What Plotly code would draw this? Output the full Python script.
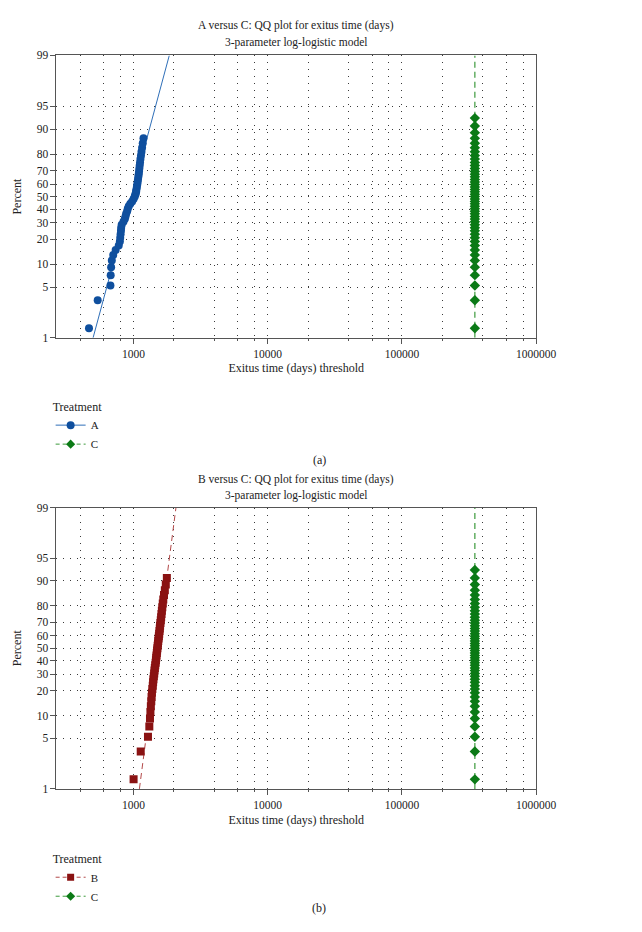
import numpy as np
import plotly.graph_objects as go

# ---------------- data ----------------
# plotting positions (percent) shared by the three groups
plot_pos = [1.36, 3.31, 5.25, 7.20, 9.14, 11.09, 13.04, 14.98, 16.93, 18.87,
            20.82, 22.76, 24.71, 26.65, 28.60, 30.54, 32.49, 34.44, 36.38, 38.33,
            40.27, 42.22, 44.16, 46.11, 48.05, 50.00, 51.95, 53.89, 55.84, 57.78,
            59.73, 61.67, 63.62, 65.56, 67.51, 69.46, 71.40, 73.35, 75.29, 77.24,
            79.18, 81.13, 83.07, 85.02, 86.96, 88.91, 90.86, 92.80]

A_days = [465, 540, 672, 675, 680, 688, 705, 735, 775, 790,
          795, 800, 805, 808, 815, 840, 860, 870, 880, 895,
          905, 920, 945, 975, 1000, 1020, 1035, 1045, 1050, 1058,
          1065, 1072, 1078, 1085, 1092, 1098, 1104, 1110, 1117, 1125,
          1135, 1145, 1157, 1170, 1185]
A_pct = plot_pos[:45]

B_days = [1000, 1130, 1280, 1310, 1325, 1335, 1345, 1355, 1362, 1370,
          1380, 1390, 1398, 1405, 1415, 1425, 1432, 1440, 1450, 1460,
          1468, 1475, 1482, 1490, 1497, 1505, 1512, 1520, 1527, 1535,
          1543, 1552, 1560, 1568, 1576, 1585, 1595, 1605, 1615, 1625,
          1637, 1650, 1665, 1685, 1710, 1738, 1770]
B_pct = plot_pos[:47]

C_value = 350000
C_days = [C_value] * 48
C_pct = plot_pos[:48]

fit_pct = [1, 99]
A_fit_days = [499, 1845]
B_fit_days = [1105, 2070]
C_fit_days = [C_value, C_value]

y_ticks = [1, 5, 10, 20, 30, 40, 50, 60, 70, 80, 90, 95, 99]
x_major = [1000, 10000, 100000, 1000000]
x_minor = [400, 600, 800, 2000, 4000, 6000, 8000, 20000, 40000, 60000, 80000,
           200000, 400000, 600000, 800000]

titles = ["A versus C: QQ plot for exitus time (days)",
          "B versus C: QQ plot for exitus time (days)"]
subtitle = "3-parameter log-logistic model"

# ---------------- styling ----------------
FONT = "Liberation Serif"
BLUE = "#0f4f9e"
BLUE_LINE = "#2f6fb8"
GREEN = "#0b7a16"
GREEN_LINE = "#3c9a3c"
RED = "#8a1212"
RED_LINE = "#b24848"
GRID = "#3a3a3a"
AXIS = "#555555"
TXT = "#222222"


def logit(p):
    p = np.asarray(p, dtype=float)
    return np.log(p / (100.0 - p))


fig = go.Figure()

# ---- panel (a)
fig.add_trace(go.Scatter(x=A_fit_days, y=logit(fit_pct), mode="lines",
                         line=dict(color=BLUE_LINE, width=1), showlegend=False,
                         xaxis="x", yaxis="y"))
fig.add_trace(go.Scatter(x=C_fit_days, y=logit(fit_pct), mode="lines",
                         line=dict(color=GREEN_LINE, width=1.2, dash="6px,4px"),
                         showlegend=False, xaxis="x", yaxis="y"))
fig.add_trace(go.Scatter(x=A_days, y=logit(A_pct), mode="markers",
                         marker=dict(symbol="circle", size=8, color=BLUE),
                         showlegend=False, xaxis="x", yaxis="y"))
fig.add_trace(go.Scatter(x=C_days, y=logit(C_pct), mode="markers",
                         marker=dict(symbol="diamond", size=8, color=GREEN),
                         showlegend=False, xaxis="x", yaxis="y"))

# ---- panel (b)
fig.add_trace(go.Scatter(x=B_fit_days, y=logit(fit_pct), mode="lines",
                         line=dict(color=RED_LINE, width=1, dash="6px,4px"),
                         showlegend=False, xaxis="x2", yaxis="y2"))
fig.add_trace(go.Scatter(x=C_fit_days, y=logit(fit_pct), mode="lines",
                         line=dict(color=GREEN_LINE, width=1.2, dash="6px,4px"),
                         showlegend=False, xaxis="x2", yaxis="y2"))
fig.add_trace(go.Scatter(x=B_days, y=logit(B_pct), mode="markers",
                         marker=dict(symbol="square", size=8, color=RED),
                         showlegend=False, xaxis="x2", yaxis="y2"))
fig.add_trace(go.Scatter(x=C_days, y=logit(C_pct), mode="markers",
                         marker=dict(symbol="diamond", size=8, color=GREEN),
                         showlegend=False, xaxis="x2", yaxis="y2"))

# ---- legend entries (legend-only traces)
fig.add_trace(go.Scatter(x=[None], y=[None], mode="lines+markers", name="A",
                         line=dict(color=BLUE_LINE, width=1),
                         marker=dict(symbol="circle", size=8, color=BLUE),
                         legend="legend", xaxis="x", yaxis="y"))
fig.add_trace(go.Scatter(x=[None], y=[None], mode="lines+markers", name="C",
                         line=dict(color=GREEN_LINE, width=1, dash="4px,3px"),
                         marker=dict(symbol="diamond", size=7, color=GREEN),
                         legend="legend", xaxis="x", yaxis="y"))
fig.add_trace(go.Scatter(x=[None], y=[None], mode="lines+markers", name="B",
                         line=dict(color=RED_LINE, width=1, dash="4px,3px"),
                         marker=dict(symbol="square", size=7, color=RED),
                         legend="legend2", xaxis="x2", yaxis="y2"))
fig.add_trace(go.Scatter(x=[None], y=[None], mode="lines+markers", name="C",
                         line=dict(color=GREEN_LINE, width=1, dash="4px,3px"),
                         marker=dict(symbol="diamond", size=7, color=GREEN),
                         legend="legend2", xaxis="x2", yaxis="y2"))

W, H = 642, 932
x_dom = [50 / W, 545 / W]
top_dom = [1 - 328 / H, 1 - 42 / H]
bot_dom = [1 - 785 / H, 1 - 500 / H]

tick_font = dict(family=FONT, size=11.5, color=TXT)
axis_title_font = dict(family=FONT, size=12, color=TXT)
title_font = dict(family=FONT, size=11.5, color=TXT)


def xaxis_cfg(anchor):
    return dict(
        type="log", range=[np.log10(266), 6], domain=x_dom, anchor=anchor,
        tickmode="array", tickvals=x_major, ticktext=[str(v) for v in x_major],
        ticks="outside", ticklen=5, tickcolor=AXIS, tickfont=tick_font,
        showline=True, linecolor=AXIS, linewidth=1, mirror=True,
        showgrid=True, gridcolor=GRID, gridwidth=1, griddash="1px,6px",
        minor=dict(tickmode="array", tickvals=x_minor, ticks="outside", ticklen=2,
                   tickcolor=AXIS, showgrid=True, gridcolor=GRID, gridwidth=1,
                   griddash="1px,6px"),
        title=dict(text="Exitus time (days) threshold", font=axis_title_font,
                   standoff=5),
        zeroline=False,
    )


def yaxis_cfg(anchor, dom):
    return dict(
        range=[float(logit(1)), float(logit(99))], domain=dom, anchor=anchor,
        tickmode="array", tickvals=[float(v) for v in logit(y_ticks)],
        ticktext=[str(v) for v in y_ticks],
        ticks="outside", ticklen=5, tickcolor=AXIS, tickfont=tick_font,
        showline=True, linecolor=AXIS, linewidth=1, mirror=True,
        showgrid=True, gridcolor=GRID, gridwidth=1, griddash="1px,6px",
        title=dict(text="Percent", font=axis_title_font, standoff=12),
        zeroline=False,
    )


xc = (x_dom[0] + x_dom[1]) / 2
annotations = [
    dict(text=titles[0], x=xc, y=1 - 12 / H, xref="paper", yref="paper",
         showarrow=False, font=title_font, xanchor="center", yanchor="middle"),
    dict(text=subtitle, x=xc, y=1 - 29 / H, xref="paper", yref="paper",
         showarrow=False, font=title_font, xanchor="center", yanchor="middle"),
    dict(text=titles[1], x=xc, y=1 - 472 / H, xref="paper", yref="paper",
         showarrow=False, font=title_font, xanchor="center", yanchor="middle"),
    dict(text=subtitle, x=xc, y=1 - 488 / H, xref="paper", yref="paper",
         showarrow=False, font=title_font, xanchor="center", yanchor="middle"),
    dict(text="(a)", x=321 / W, y=1 - 452 / H, xref="paper", yref="paper",
         showarrow=False, font=axis_title_font, xanchor="center", yanchor="middle"),
    dict(text="(b)", x=321 / W, y=1 - 906 / H, xref="paper", yref="paper",
         showarrow=False, font=axis_title_font, xanchor="center", yanchor="middle"),
]

legend_common = dict(
    xanchor="left", yanchor="top", bgcolor="rgba(0,0,0,0)",
    font=dict(family=FONT, size=11, color=TXT),
    title=dict(text="Treatment", font=dict(family=FONT, size=12, color=TXT)),
    itemwidth=30, tracegroupgap=0,
)

fig.update_layout(
    width=W, height=H,
    margin=dict(l=0, r=0, t=0, b=0),
    paper_bgcolor="white", plot_bgcolor="white",
    font=dict(family=FONT, size=12, color=TXT),
    xaxis=xaxis_cfg("y"), yaxis=yaxis_cfg("x", top_dom),
    xaxis2=xaxis_cfg("y2"), yaxis2=yaxis_cfg("x2", bot_dom),
    annotations=annotations,
    legend=dict(x=44 / W, y=1 - 386 / H, **legend_common),
    legend2=dict(x=44 / W, y=1 - 844 / H, **legend_common),
    showlegend=True,
)

fig.write_html("out.html")
